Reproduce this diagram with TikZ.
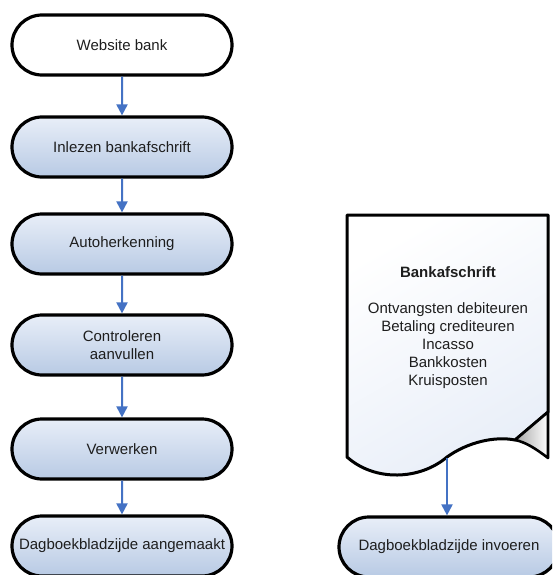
\documentclass[tikz,border=0pt]{standalone}
\usepackage{fontspec}
\setmainfont{Liberation Sans}
\usetikzlibrary{shapes.misc,arrows.meta}
\definecolor{arrowblue}{RGB}{68,114,196}
\definecolor{boxtop}{RGB}{232,238,248}
\definecolor{boxbot}{RGB}{184,202,228}
\definecolor{txt}{RGB}{30,30,30}
\tikzset{
  flowbox/.style={rounded rectangle, draw=black, line width=3.2pt,
    minimum width=220pt, minimum height=60pt, inner sep=0pt,
    top color=boxtop, bottom color=boxbot, text=txt, align=center,
    font=\fontsize{15}{18}\selectfont},
  startbox/.style={flowbox, top color=white, bottom color=white, fill=white},
  flowarrow/.style={draw=arrowblue, line width=2pt,
    -{Triangle[length=11pt,width=11pt]}}
}
\begin{document}
\begin{tikzpicture}[x=1pt,y=-1pt]
\clip (0,0) rectangle (552,575);
\fill[white] (0,0) rectangle (552,575);
% left column
\node[startbox] (web) at (122,45) {Website bank};
\node[flowbox] (inl) at (122,147) {Inlezen bankafschrift};
\node[flowbox] (auto) at (122,244) {Autoherkenning};
\node[flowbox] (ctrl) at (122,345) {Controleren\\aanvullen};
\node[flowbox] (verw) at (122,449) {Verwerken};
\node[flowbox] (dagl) at (122,546) {Dagboekbladzijde aangemaakt};
\draw[flowarrow] (web) -- (inl);
\draw[flowarrow] (inl) -- (auto);
\draw[flowarrow] (auto) -- (ctrl);
\draw[flowarrow] (ctrl) -- (verw);
\draw[flowarrow] (verw) -- (dagl);
% document
\draw[line width=3pt, line join=round, top color=white, bottom color=boxtop, shading angle=30]
  (347,215) -- (548,215) -- (548,412) -- (515,440)
  .. controls (495,436) and (468,442) .. (447,457)
  .. controls (420,480) and (375,482) .. (347,457) -- cycle;
\draw[line width=2.6pt, line join=round, left color=gray!70, right color=white]
  (515,440) -- (548,412) -- (548,458) .. controls (535,448) and (525,442) .. (515,440) -- cycle;
\node[text=txt, align=center, font=\fontsize{15}{18}\selectfont] (doc) at (448,328)
  {\textbf{Bankafschrift}\\[18pt]Ontvangsten debiteuren\\Betaling crediteuren\\Incasso\\Bankkosten\\Kruisposten};
\coordinate (docbot) at (447,458);
\node[flowbox] (dagr) at (449,547) {Dagboekbladzijde invoeren};
\draw[flowarrow] (docbot) -- (docbot |- dagr.north);
\end{tikzpicture}
\end{document}
